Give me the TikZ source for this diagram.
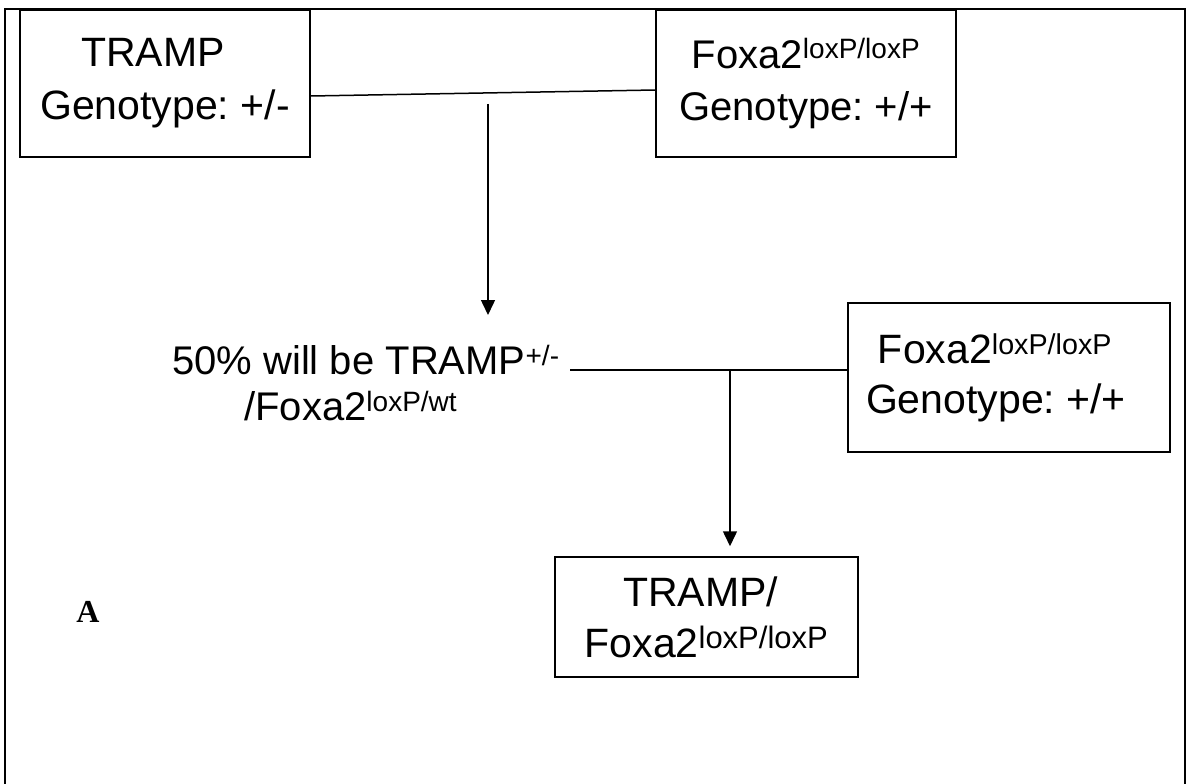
\documentclass[tikz,border=0pt]{standalone}
\usepackage{fontspec}
\setmainfont{Liberation Sans}
\newfontfamily\panelfont{Liberation Serif}
\usetikzlibrary{arrows.meta}
\newcommand{\sups}[1]{\textsuperscript{#1}}
\frenchspacing

\begin{document}
\begin{tikzpicture}[x=1pt,y=-1pt]
            \tikzset{box/.style = {shape=rectangle,draw,line width=1.5pt,align=center,inner sep=0pt}}
            \tikzset{edge/.style = {line width=1.5pt,-{Triangle[length=15pt,width=14pt]}}}
            \tikzset{cross/.style = {line width=1.5pt}}

            \useasboundingbox (0,0) rectangle (1187,784);
            % outer frame, open at the bottom
            \draw[line width=2.8pt] (5,784) -- (5,9) -- (1185,9) -- (1185,784);

            \node[box,minimum width=290,minimum height=147,font=\fontsize{41}{53}\selectfont] (tramp) at (165,83.5) {TRAMP\hspace*{24pt}\\Genotype: +/-};
            \node[box,minimum width=300,minimum height=147,font=\fontsize{40}{52}\selectfont] (foxa) at (806,83.5) {Foxa2\sups{loxP/loxP}\\Genotype: +/+};

            \node[anchor=north west,inner sep=0pt,align=left,font=\fontsize{40}{46}\selectfont] (het) at (172,345) {50\% will be TRAMP\sups{+/-}\\\hspace*{72pt}/Foxa2\sups{loxP/wt}};
            \node[box,minimum width=322,minimum height=149,font=\fontsize{41}{50}\selectfont] (foxb) at (1009,377.5) {Foxa2\sups{loxP/loxP}\hspace*{28pt}\\Genotype: +/+\hspace*{26pt}};

            \node[box,minimum width=303,minimum height=120,font=\fontsize{41}{51}\selectfont] (cross2) at (706.5,617) {TRAMP/\hspace*{12pt}\\Foxa2\sups{\fontsize{31}{31}\selectfont loxP/loxP}};
            \node[font=\panelfont\bfseries\fontsize{32}{32}\selectfont] (panel) at (88,612) {A};

            \coordinate (a1) at (0,96);
            \coordinate (b1) at (0,90);
            \coordinate (top1) at (488,104);
            \coordinate (tip1) at (488,315);
            \coordinate (start2) at (570,370);
            \coordinate (m2) at (730,370);

            \draw[cross] (tramp.east |- a1) -- (foxa.west |- b1);
            \draw[edge] (top1) -- (tip1);
            \draw[cross] (start2) -- (foxb.west |- start2);
            \draw[edge,shorten >=10pt] (m2) -- (m2 |- cross2.north);
\end{tikzpicture}
\end{document}
